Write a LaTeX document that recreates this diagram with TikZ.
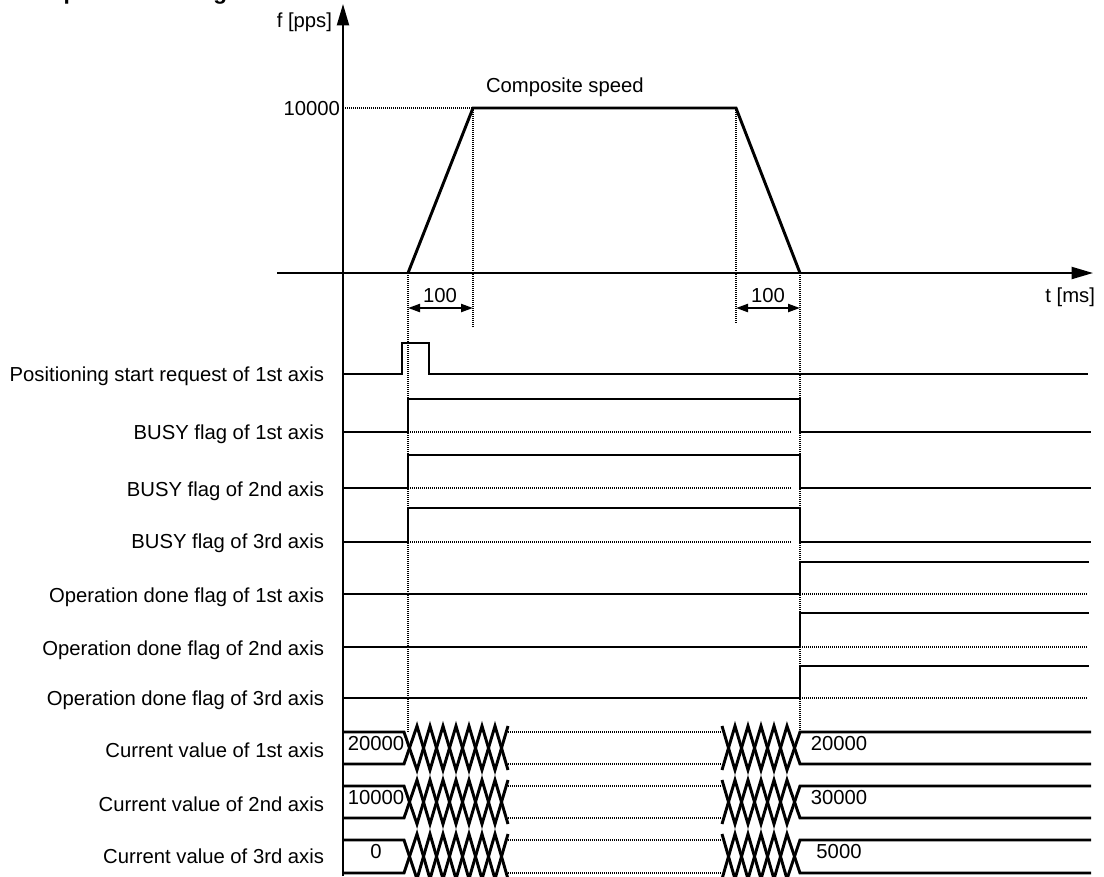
\documentclass[tikz,border=0pt]{standalone}
\usepackage{fontspec}
\setmainfont{Liberation Sans}
\usetikzlibrary{arrows.meta}
\newcommand{\busyrow}[2]{%
  \draw[dotline] (408,#1) -- (792,#1);
  \draw[sig] (343,#1) -- (408,#1) -- (408,#2) -- (800,#2) -- (800,#1) -- (1091,#1);
}
\newcommand{\donerow}[2]{%
  \draw[dotline] (800,#1) -- (1087,#1);
  \draw[sig] (343,#1) -- (800,#1) -- (800,#2) -- (1089,#2);
}
\newcommand{\cvrow}[5]{%
  \pgfmathsetmacro{\cvM}{(#1+#2)/2}%
  \pgfmathsetmacro{\cvH}{(#2-#1)/2+6}%
  \draw[sig] (343,#1) -- (404,#1) \foreach \i in {1,...,8}{ -- ({404+13*\i},{\cvM-\cvH*cos(180*\i)}) };
  \draw[sig] (343,#2) -- (404,#2) \foreach \i in {1,...,8}{ -- ({404+13*\i},{\cvM+\cvH*cos(180*\i)}) };
  \draw[dotline] (508,#1) -- (722,#1);
  \draw[dotline] (508,#2) -- (722,#2);
  \draw[sig] (722,{\cvM-\cvH}) \foreach \i in {1,...,5}{ -- ({722+13*\i},{\cvM-\cvH*cos(180*\i)}) } -- (800,#1) -- (1091,#1);
  \draw[sig] (722,{\cvM+\cvH}) \foreach \i in {1,...,5}{ -- ({722+13*\i},{\cvM+\cvH*cos(180*\i)}) } -- (800,#2) -- (1091,#2);
  \node[anchor=base] (#5a) at (376,{#1+18}) {#3};
  \node[anchor=base] (#5b) at (839,{#1+18}) {#4};
}
\begin{document}
\begin{tikzpicture}[x=0.75pt,y=-0.75pt,
  every node/.style={font=\fontsize{15.2}{18}\selectfont, inner sep=0pt, outer sep=0pt},
  sig/.style={line width=2.2pt, line join=miter, line cap=butt},
  axisline/.style={line width=1.5pt, -{Triangle[length=16pt,width=9pt]}},
  dotline/.style={line width=1pt, dash pattern=on 0.75pt off 0.75pt},
  dimarrow/.style={line width=1.6pt, {Triangle[length=9pt,width=6pt]}-{Triangle[length=9pt,width=6pt]}},
  rowlabel/.style={anchor=base east}]
\useasboundingbox (0,0) rectangle (1104,876);
\clip (0,0) rectangle (1104,876);

% title (cut off at the top edge, as in the reference)
\node[anchor=base west, font=\bfseries\fontsize{17}{20}\selectfont] (title) at (46,-1) {Operation timing};

% axes
\coordinate (O) at (343,273);
\coordinate (ytop) at (343,4);
\coordinate (ybot) at (343,876);
\coordinate (xl) at (277,273);
\coordinate (xr) at (1093,273);
\draw[axisline] (ybot) -- (ytop);
\draw[axisline] (xl) -- (xr);
\node[anchor=base east] (flab) at (332,27) {f [pps]};
\node[anchor=base east] (tlab) at (1095,302) {t [ms]};
\node[anchor=base east] (fmax) at (340,115) {10000};

% speed profile
\coordinate (a0) at (408,273);
\coordinate (a1) at (473,108);
\coordinate (a2) at (736,108);
\coordinate (a3) at (800,273);
\coordinate (fm) at (343,108);
\draw[dotline] (fm) -- (a1);
\draw[dotline] (a1) -- (473,327);
\draw[dotline] (a2) -- (736,323);
\draw[dotline] (a0) -- (408,732);
\draw[dotline] (a3) -- (800,732);
\draw[sig] (a0) -- (a1) -- (a2) -- (a3);
\node[anchor=base west] (comp) at (486,92) {Composite speed};

% dimensions
\coordinate (d1) at (408,308);
\coordinate (d2) at (473,308);
\coordinate (d3) at (736,308);
\coordinate (d4) at (800,308);
\draw[dimarrow] (d1) -- (d2);
\draw[dimarrow] (d3) -- (d4);
\node[anchor=base] (acc) at (440,302) {100};
\node[anchor=base] (dec) at (768,302) {100};

% row labels
\node[rowlabel] (r1) at (324,381) {Positioning start request of 1st axis};
\node[rowlabel] (r2) at (324,439) {BUSY flag of 1st axis};
\node[rowlabel] (r3) at (324,496) {BUSY flag of 2nd axis};
\node[rowlabel] (r4) at (324,548) {BUSY flag of 3rd axis};
\node[rowlabel] (r5) at (324,602) {Operation done flag of 1st axis};
\node[rowlabel] (r6) at (324,655) {Operation done flag of 2nd axis};
\node[rowlabel] (r7) at (324,705) {Operation done flag of 3rd axis};
\node[rowlabel] (r8) at (324,757) {Current value of 1st axis};
\node[rowlabel] (r9) at (324,811) {Current value of 2nd axis};
\node[rowlabel] (r10) at (324,863) {Current value of 3rd axis};

% signals
\draw[sig] (343,374) -- (402,374) -- (402,343) -- (429,343) -- (429,374) -- (1088,374);
\busyrow{432}{399}
\busyrow{488}{455}
\busyrow{542}{508}
\donerow{594}{562}
\donerow{647}{613}
\donerow{698}{666}
\cvrow{732}{764}{20000}{20000}{c1}
\cvrow{786}{818}{10000}{30000}{c2}
\cvrow{840}{873}{0}{5000}{c3}
\end{tikzpicture}
\end{document}
